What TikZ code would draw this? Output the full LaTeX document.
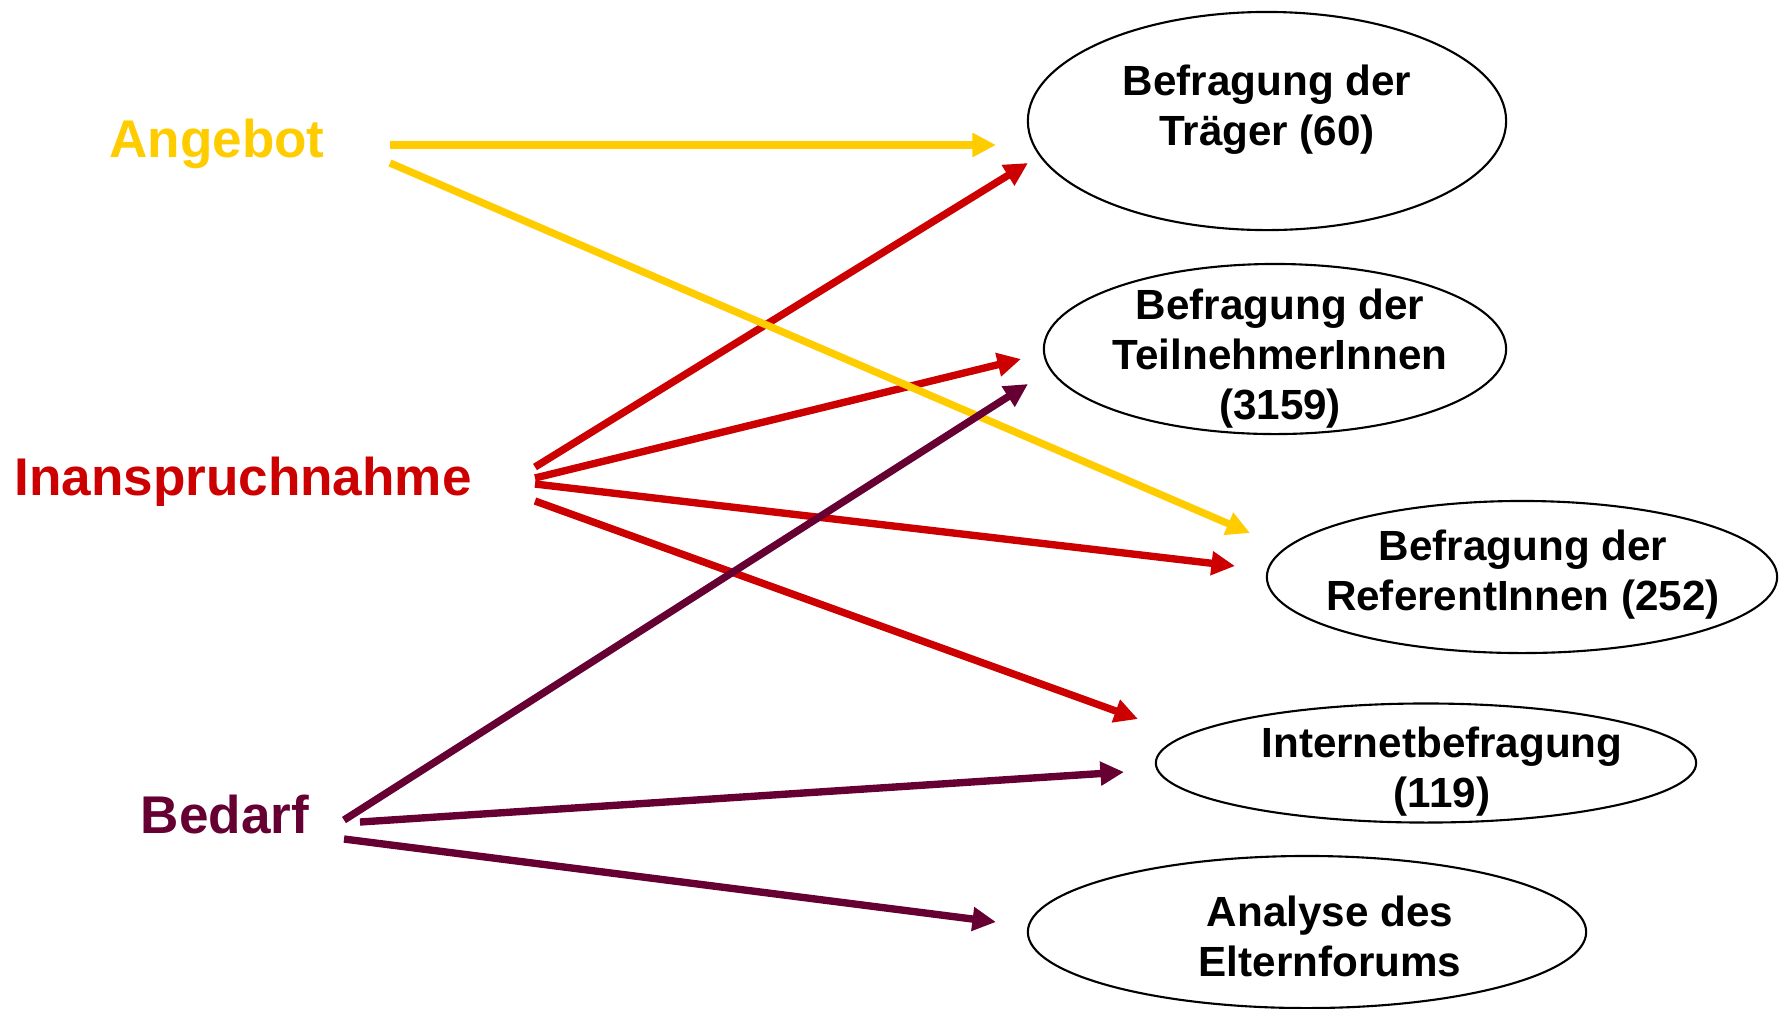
\documentclass[tikz,border=0pt]{standalone}
\usepackage{fontspec}
\setmainfont{Liberation Sans}
\usetikzlibrary{arrows.meta,shapes.geometric}

\definecolor{angebotgelb}{HTML}{FFCC00}
\definecolor{nutzungrot}{HTML}{CC0000}
\definecolor{bedarflila}{HTML}{660033}

\tikzset{
    survey/.style={draw, ellipse, line width=0.6pt, inner sep=0pt},
    surveytext/.style={font=\bfseries\fontsize{12}{14.2}\selectfont, align=center, inner sep=0pt},
    category/.style={font=\bfseries\fontsize{15.1}{18}\selectfont, anchor=base, inner sep=0pt},
    link/.style={line width=2.1pt, -{Triangle[length=6.7pt,width=6.5pt]}},
}

\begin{document}
\begin{tikzpicture}[x=0.01cm, y=-0.01cm]
            \useasboundingbox (0,0) rectangle (1785,1008);

            % Draw the three categories
            \node[category, text=angebotgelb] (angebot) at (217,157) {Angebot};
            \node[category, text=nutzungrot] (nutzung) at (243,495) {Inanspruchnahme};
            \node[category, text=bedarflila] (bedarf) at (225,833) {Bedarf};

            % Draw the five surveys
            \node[survey, minimum width=4.78cm, minimum height=2.18cm] (traeger) at (1267,121) {};
            \node[surveytext] at (1267,110) {Befragung der\\Träger (60)};

            \node[survey, minimum width=4.62cm, minimum height=1.70cm] (teilnehmer) at (1275,349) {};
            \node[surveytext] at (1280,359) {Befragung der\\TeilnehmerInnen\\(3159)};

            \node[survey, minimum width=5.10cm, minimum height=1.52cm] (referenten) at (1522,577) {};
            \node[surveytext] at (1523,575) {Befragung der\\ReferentInnen (252)};

            \node[survey, minimum width=5.40cm, minimum height=1.19cm] (internet) at (1426,763) {};
            \node[surveytext] at (1442,772) {Internetbefragung\\(119)};

            \node[survey, minimum width=5.58cm, minimum height=1.52cm] (forum) at (1307,932) {};
            \node[surveytext] at (1330,936) {Analyse des\\Elternforums};

            % Ends of the arrows
            \coordinate (angebot-a) at (390,145);
            \coordinate (angebot-b) at (390,163);
            \coordinate (nutzung-a) at (535,467);
            \coordinate (nutzung-b) at (535,478);
            \coordinate (nutzung-c) at (535,484);
            \coordinate (nutzung-d) at (535,501);
            \coordinate (bedarf-a) at (344,820);
            \coordinate (bedarf-b) at (360,822);
            \coordinate (bedarf-c) at (344,839);

            \coordinate (traeger-in) at (996,145);
            \coordinate (traeger-in2) at (1028,163);
            \coordinate (teilnehmer-in) at (1021,359);
            \coordinate (teilnehmer-in2) at (1028,384);
            \coordinate (referenten-in) at (1250,533);
            \coordinate (referenten-in2) at (1235,566);
            \coordinate (internet-in) at (1138,719);
            \coordinate (internet-in2) at (1124,772);
            \coordinate (forum-in) at (996,922);

            % Draw the arrows
            \draw[link, nutzungrot] (nutzung-a) -- (traeger-in2);
            \draw[link, nutzungrot] (nutzung-b) -- (teilnehmer-in);
            \draw[link, nutzungrot] (nutzung-c) -- (referenten-in2);
            \draw[link, nutzungrot] (nutzung-d) -- (internet-in);

            \draw[link, angebotgelb] (angebot-a) -- (traeger-in);
            \draw[link, angebotgelb] (angebot-b) -- (referenten-in);

            \draw[link, bedarflila] (bedarf-a) -- (teilnehmer-in2);
            \draw[link, bedarflila] (bedarf-b) -- (internet-in2);
            \draw[link, bedarflila] (bedarf-c) -- (forum-in);

        \end{tikzpicture}
\end{document}
